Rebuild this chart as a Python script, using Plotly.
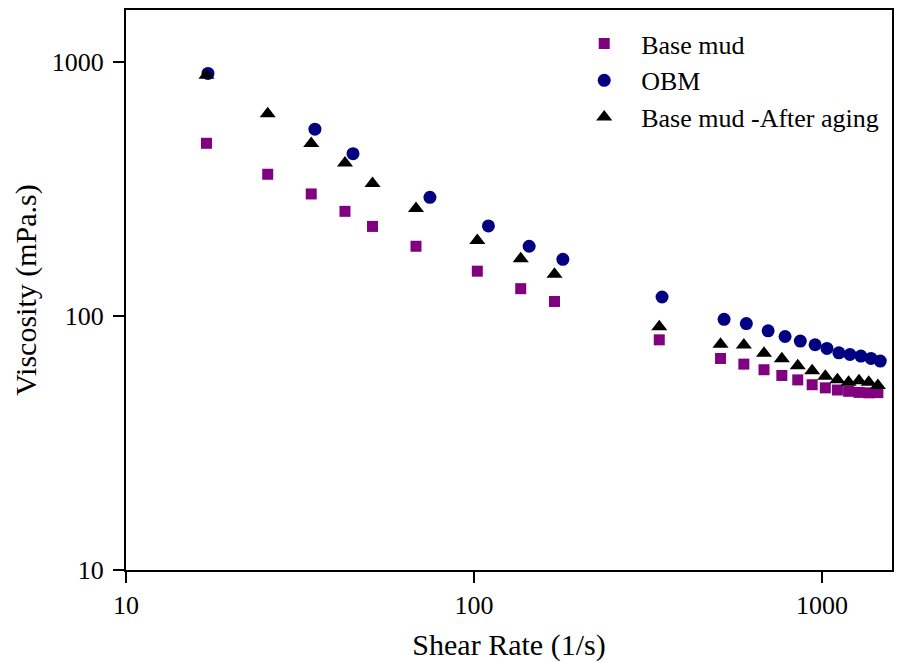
import plotly.graph_objects as go

# Shear rates (1/s)
base_rate = [17.03, 25.54, 34.06, 42.58, 51.09, 68.12, 102.2, 136.2, 170.3, 340.6,
             510.9, 596.1, 681.2, 766.4, 851.5, 936.7, 1021.8, 1107, 1192, 1277, 1362, 1447]
base_visc = [478, 361, 302, 258, 225, 188, 150, 128, 114, 80.5,
             68.0, 64.6, 61.4, 58.3, 56.0, 53.6, 52.1, 51.1, 50.5, 50.0, 49.8, 49.9]

obm_rate = [17.2, 34.9, 44.9, 74.7, 110, 144, 180, 347,
            523, 606, 700, 783, 866, 955, 1033, 1118, 1203, 1293, 1383, 1470]
obm_visc = [900, 543, 435, 293, 226, 188, 167, 118.7,
            97, 93.3, 87.4, 83, 79.6, 77, 74.5, 71.6, 70.5, 69.5, 68.0, 66.4]

aged_rate = base_rate
aged_visc = [885, 625, 477, 400, 332, 265, 198, 168, 146, 90.6,
             77.3, 76.9, 71.3, 67.9, 63.7, 60.9, 57.9, 56.1, 54.8, 55.6, 54.8, 53.2]

series_names = ["Base mud", "OBM", "Base mud -After aging"]
x_ticks = [10, 100, 1000]
y_ticks = [10, 100, 1000]

FONT = "Liberation Serif"

fig = go.Figure()
fig.add_trace(go.Scatter(x=base_rate, y=base_visc, mode="markers", name=series_names[0],
                         marker=dict(symbol="square", size=11, color="#800080")))
fig.add_trace(go.Scatter(x=obm_rate, y=obm_visc, mode="markers", name=series_names[1],
                         marker=dict(symbol="circle", size=13, color="#000080")))
fig.add_trace(go.Scatter(x=aged_rate, y=aged_visc, mode="markers", name=series_names[2],
                         marker=dict(symbol="triangle-up", size=14, color="#000000")))

# page body has an 8px margin, so the figure is sized to fit the 902x662 window
fig.update_layout(
    width=894, height=654,
    margin=dict(l=118, r=10, t=0, b=92),
    paper_bgcolor="white", plot_bgcolor="white",
    font=dict(family=FONT, size=26, color="black"),
    showlegend=True,
    legend=dict(x=0.576, y=0.982, xanchor="left", yanchor="top",
                bgcolor="rgba(0,0,0,0)", itemwidth=64,
                font=dict(family=FONT, size=26, color="black")),
)
fig.update_xaxes(type="log", range=[1, 3.201], tickvals=x_ticks,
                 ticktext=[str(v) for v in x_ticks],
                 showgrid=False, zeroline=False,
                 showline=True, linecolor="black", linewidth=2, mirror=True,
                 ticks="outside", ticklen=11, tickwidth=2, tickcolor="black",
                 tickfont=dict(family=FONT, size=26),
                 title=dict(text="Shear Rate (1/s)", font=dict(family=FONT, size=30), standoff=20))
fig.update_yaxes(type="log", range=[1, 3.204], tickvals=y_ticks,
                 ticktext=[str(v) for v in y_ticks],
                 showgrid=False, zeroline=False, automargin=True,
                 showline=True, linecolor="black", linewidth=2, mirror=True,
                 ticks="outside", ticklen=11, tickwidth=2, tickcolor="black",
                 ticklabelstandoff=4,
                 tickfont=dict(family=FONT, size=26),
                 title=dict(text="Viscosity (mPa.s)", font=dict(family=FONT, size=30), standoff=6))

fig.write_html("out.html")
